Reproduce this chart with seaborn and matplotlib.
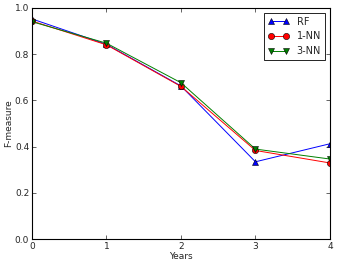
import matplotlib
matplotlib.use("Agg")
import matplotlib.pyplot as plt
import pandas as pd
import seaborn as sns

years = [0, 1, 2, 3, 4]
rf = [0.952, 0.842, 0.662, 0.334, 0.412]
nn1 = [0.943, 0.840, 0.660, 0.383, 0.329]
nn3 = [0.940, 0.847, 0.676, 0.389, 0.346]
labels = ["RF", "1-NN", "3-NN"]

df = pd.DataFrame({
    "year": years * 3,
    "value": rf + nn1 + nn3,
    "model": [labels[0]] * 5 + [labels[1]] * 5 + [labels[2]] * 5,
})

sns.set_style("ticks")
plt.rcParams["font.family"] = ["DejaVu Sans"]

fig = plt.figure(figsize=(3.37, 2.66), dpi=100)
ax = fig.add_axes([0.095, 0.1015, 0.884, 0.869])

sns.lineplot(data=df, x="year", y="value", hue="model", style="model",
             palette=["#0000ff", "#ff0000", "#008000"],
             markers=["^", "o", "v"], dashes=False, legend=False,
             markersize=4.5, linewidth=0.7, markeredgecolor="k",
             markeredgewidth=0.4, ax=ax)

ax.legend(handles=ax.lines[:3], labels=labels, numpoints=2, fontsize=7,
          loc="upper right", fancybox=False, edgecolor="k", framealpha=1,
          borderaxespad=0.5, handlelength=2.2)
ax.get_legend().get_frame().set_linewidth(0.6)

ax.set_xlim(0, 4)
ax.set_ylim(0, 1)
ax.set_xticks(years)
ax.set_yticks([0.0, 0.2, 0.4, 0.6, 0.8, 1.0])
ax.set_xlabel("Years", fontsize=6.5, labelpad=1)
ax.set_ylabel("F-measure", fontsize=6.5, labelpad=1.5)
ax.tick_params(direction="in", top=True, right=True, labelsize=6.5,
               length=3, width=0.5, pad=2)
for s in ax.spines.values():
    s.set_linewidth(0.8)
    s.set_color("k")

fig.savefig("out.png", dpi=100)
